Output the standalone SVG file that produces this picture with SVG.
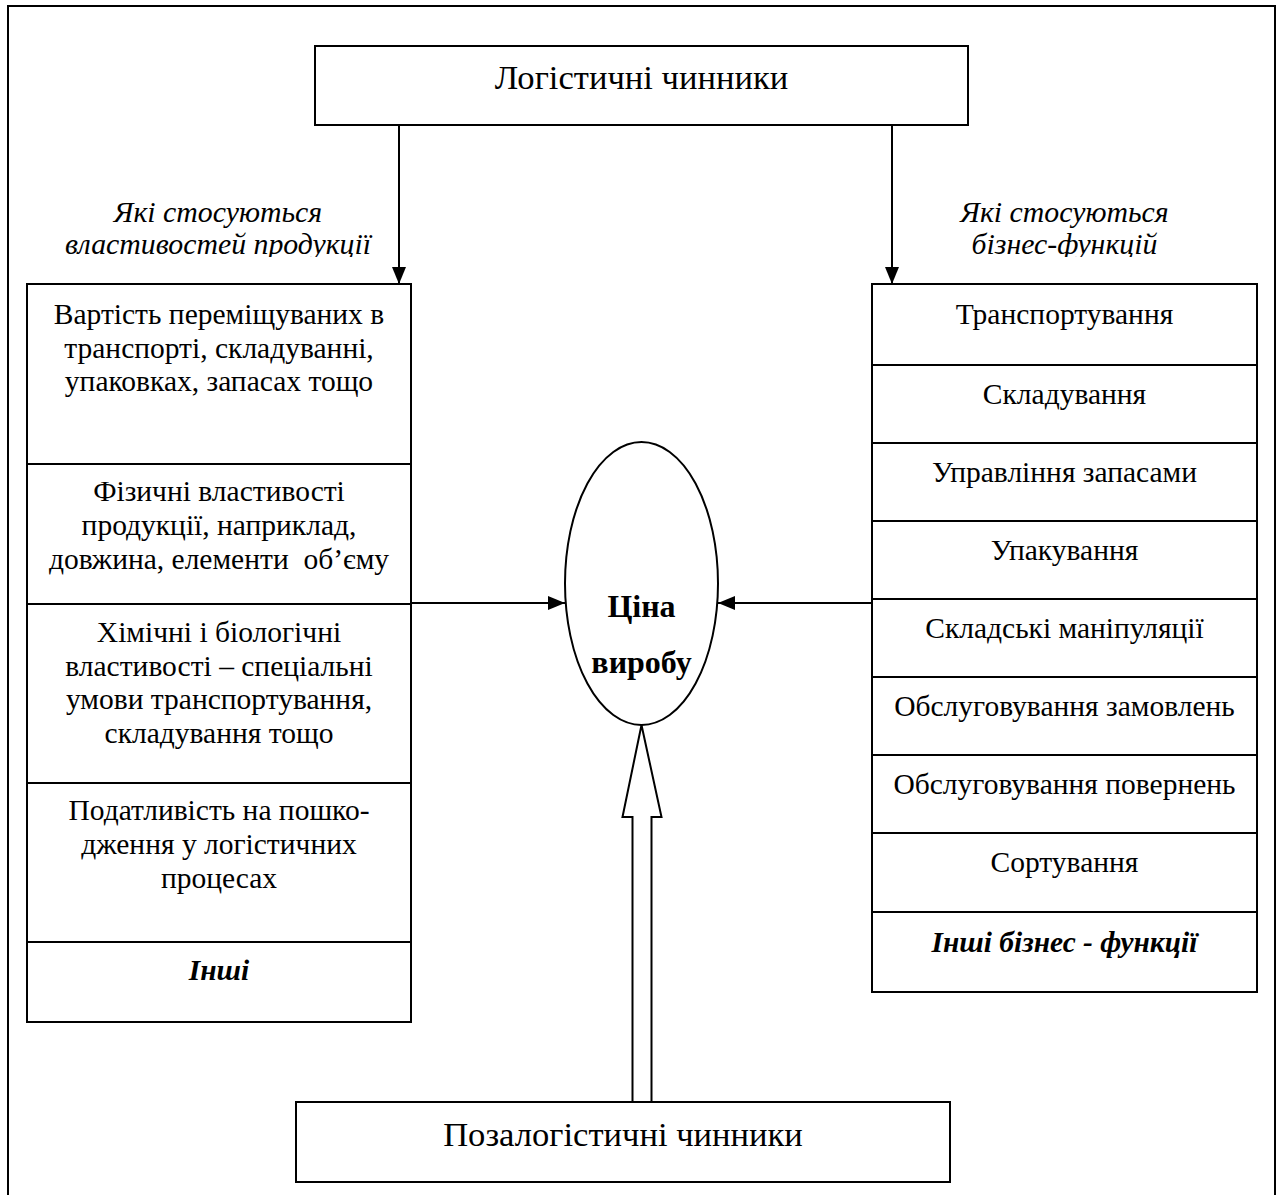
<svg xmlns="http://www.w3.org/2000/svg" width="1278" height="1195" viewBox="0 0 1278 1195">
<style>
.box{fill:#fff;stroke:#000;stroke-width:2}
.ln{stroke:#000;stroke-width:2;fill:none}
.t{font-family:"Liberation Serif","Times New Roman",serif;fill:#000;text-anchor:middle}
.n{font-size:29.5px}
.big{font-size:34.6px}
.it{font-size:29.8px;font-style:italic}
.bi{font-size:29.4px;font-style:italic;font-weight:bold}
.b{font-size:32px;font-weight:bold}
</style>
<defs>
<marker id="ah" markerWidth="18" markerHeight="14" refX="17" refY="7" orient="auto" markerUnits="userSpaceOnUse">
<path d="M0,0 L17,7 L0,14 Z" fill="#000"/>
</marker>
<clipPath id="clipL"><rect x="0" y="0" width="1278" height="257"/></clipPath>
</defs>
<rect x="8" y="6" width="1267" height="1210" fill="#fff" stroke="#000" stroke-width="2"/>

<g id="connectors">
<line class="ln" x1="399" y1="125" x2="399" y2="284" marker-end="url(#ah)"/>
<line class="ln" x1="892" y1="125" x2="892" y2="284" marker-end="url(#ah)"/>
<line class="ln" x1="411" y1="603" x2="565" y2="603" marker-end="url(#ah)"/>
<line class="ln" x1="872" y1="603" x2="718" y2="603" marker-end="url(#ah)"/>
<polygon points="641.5,725 661.5,817 651.5,817 651.5,1102 632.5,1102 632.5,817 622.5,817" fill="#fff" stroke="#000" stroke-width="2" stroke-linejoin="miter"/>
</g>

<g id="top">
<rect class="box" x="315" y="46" width="653" height="79"/>
<text class="t big" x="641.5" y="89">Логістичні чинники</text>
</g>

<g id="label-left">
<text class="t it" x="218" y="222">Які стосуються</text>
<text class="t it" x="218" y="254" clip-path="url(#clipL)">властивостей продукції</text>
</g>
<g id="label-right">
<text class="t it" x="1064.5" y="222">Які стосуються</text>
<text class="t it" x="1064.5" y="254" clip-path="url(#clipL)">бізнес-функцій</text>
</g>

<g id="left-box">
<rect class="box" x="27" y="284" width="384" height="738"/>
<line class="ln" x1="27" y1="464" x2="411" y2="464"/>
<line class="ln" x1="27" y1="604" x2="411" y2="604"/>
<line class="ln" x1="27" y1="783" x2="411" y2="783"/>
<line class="ln" x1="27" y1="942" x2="411" y2="942"/>
<text class="t n" x="219" y="324">Вартість переміщуваних в</text>
<text class="t n" x="219" y="357.5">транспорті, складуванні,</text>
<text class="t n" x="219" y="391">упаковках, запасах тощо</text>
<text class="t n" x="219" y="501">Фізичні властивості</text>
<text class="t n" x="219" y="535">продукції, наприклад,</text>
<text class="t n" x="219" y="569" xml:space="preserve">довжина, елементи  об’єму</text>
<text class="t n" x="219" y="642">Хімічні і біологічні</text>
<text class="t n" x="219" y="675.5">властивості – спеціальні</text>
<text class="t n" x="219" y="709">умови транспортування,</text>
<text class="t n" x="219" y="742.5">складування тощо</text>
<text class="t n" x="219" y="820">Податливість на пошко-</text>
<text class="t n" x="219" y="854">дження у логістичних</text>
<text class="t n" x="219" y="888">процесах</text>
<text class="t bi" x="219" y="980">Інші</text>
</g>

<g id="right-box">
<rect class="box" x="872" y="284" width="385" height="708"/>
<line class="ln" x1="872" y1="365" x2="1257" y2="365"/>
<line class="ln" x1="872" y1="443" x2="1257" y2="443"/>
<line class="ln" x1="872" y1="521" x2="1257" y2="521"/>
<line class="ln" x1="872" y1="599" x2="1257" y2="599"/>
<line class="ln" x1="872" y1="677" x2="1257" y2="677"/>
<line class="ln" x1="872" y1="755" x2="1257" y2="755"/>
<line class="ln" x1="872" y1="833" x2="1257" y2="833"/>
<line class="ln" x1="872" y1="912" x2="1257" y2="912"/>
<text class="t n" x="1064.5" y="324">Транспортування</text>
<text class="t n" x="1064.5" y="404">Складування</text>
<text class="t n" x="1064.5" y="482">Управління запасами</text>
<text class="t n" x="1064.5" y="560">Упакування</text>
<text class="t n" x="1064.5" y="638">Складські маніпуляції</text>
<text class="t n" x="1064.5" y="716">Обслуговування замовлень</text>
<text class="t n" x="1064.5" y="794">Обслуговування повернень</text>
<text class="t n" x="1064.5" y="872">Сортування</text>
<text class="t bi" x="1064.5" y="952">Інші бізнес - функції</text>
</g>

<g id="price">
<ellipse cx="641.5" cy="583.5" rx="76.5" ry="141.5" fill="#fff" stroke="#000" stroke-width="2"/>
<text class="t b" x="641.5" y="617">Ціна</text>
<text class="t b" x="641.5" y="673">виробу</text>
</g>

<g id="bottom">
<rect class="box" x="296" y="1102" width="654" height="80"/>
<text class="t big" x="623" y="1146">Позалогістичні чинники</text>
</g>
</svg>
